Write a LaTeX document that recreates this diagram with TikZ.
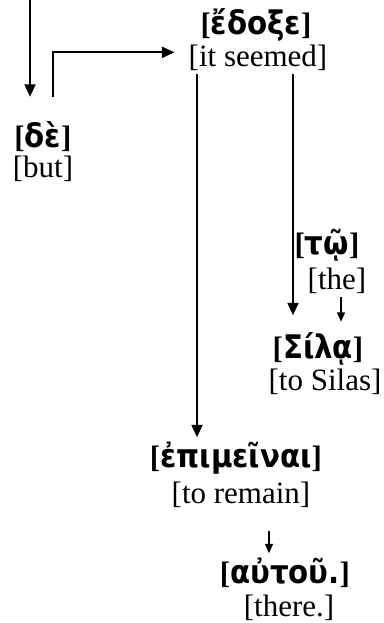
\documentclass[tikz,border=0pt]{standalone}
\usepackage{fontspec}
\setmainfont{Liberation Serif}
\newfontfamily\grk{DejaVu Sans Condensed}
\usetikzlibrary{arrows.meta}
\tikzset{
  gr/.style={anchor=base,inner sep=1.5pt,font=\fontsize{12.4}{12.4}\selectfont\bfseries},
  en/.style={anchor=base,inner sep=1.5pt,font=\fontsize{12.4}{12.4}\selectfont},
  arr/.style={-{Triangle[length=5pt,width=4.4pt]},line width=0.8pt},
  sarr/.style={-{Triangle[length=3.8pt,width=3.2pt]},line width=0.6pt}
}
\newcommand{\gw}[1]{[{\grk\fontsize{13}{13}\selectfont #1}]}
\begin{document}
\begin{tikzpicture}[x=0.4pt,y=-0.4pt]
\useasboundingbox (0,0) rectangle (383,623);
\node[gr] (edoxe) at (256,34) {\gw{ἔδοξε}};
\node[en] (seemed) at (258,66) {[it seemed]};
\node[gr] (de) at (43,147) {\gw{δὲ}};
\node[en] (but) at (43,177) {[but]};
\node[gr] (to) at (327,254) {\gw{τῷ}};
\node[en] (the) at (337,289) {[the]};
\node[gr] (sila) at (318,358) {\gw{Σίλᾳ}};
\node[en] (silas) at (325,390) {[to Silas]};
\node[gr] (epimeinai) at (236,467) {\gw{ἐπιμεῖναι}};
\node[en] (remain) at (241,503) {[to remain]};
\node[gr] (autou) at (285,583) {\gw{αὐτοῦ.}};
\node[en] (there) at (289,616) {[there.]};
\coordinate (in) at (30,0);
\draw[arr,shorten >=8pt] (in) -- (in |- de.north);
\draw[arr,shorten <=8pt,shorten >=4pt] ([xshift=4pt]de.north) |- ([yshift=2pt]seemed.west);
\draw[arr] ([xshift=-24.4pt]seemed.south) -- ([xshift=-24.4pt]seemed.south |- epimeinai.north);
\draw[arr,shorten >=5pt] ([xshift=14pt]seemed.south) -- ([xshift=14pt]seemed.south |- sila.north);
\draw[sarr,shorten >=2.4pt] ([xshift=1.6pt]the.south) -- ([xshift=1.6pt]the.south |- sila.north);
\draw[sarr,shorten <=8pt] ([xshift=11.2pt]remain.south) -- ([xshift=11.2pt]remain.south |- autou.north);
\end{tikzpicture}
\end{document}
